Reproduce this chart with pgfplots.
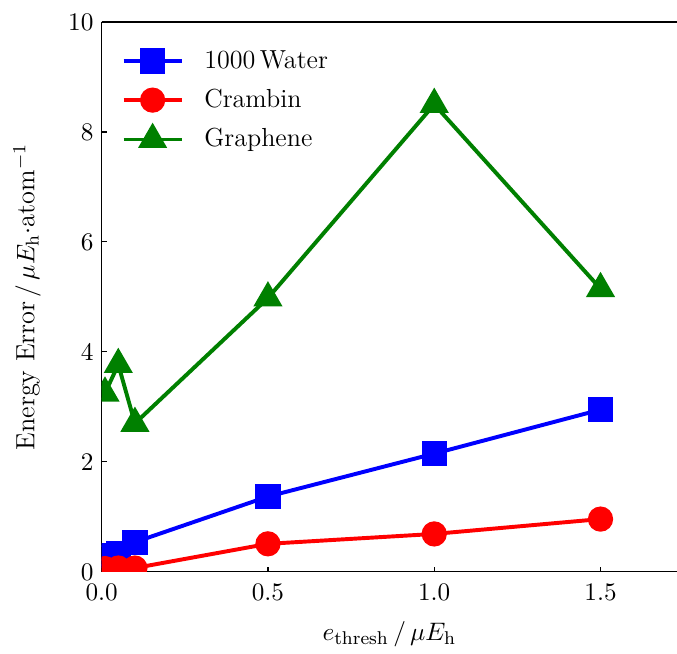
\documentclass[border=0pt]{standalone}
\usepackage{pgfplots}
\pgfplotsset{compat=1.18}
\definecolor{mplgreen}{RGB}{0,128,0}
\begin{document}
\begin{tikzpicture}
\begin{axis}[
  scale only axis,
  width=249pt, height=238pt,
  xmin=0, xmax=1.73, ymin=0, ymax=10,
  axis x line=box, axis y line=left,
  axis line style={line width=0.5pt, -},
  xtick={0,0.5,1.0,1.5},
  xticklabels={0.0,0.5,1.0,1.5},
  ytick={0,2,4,6,8,10},
  xtick pos=bottom, ytick pos=left,
  tick align=inside, major tick length=2.2pt,
  tick style={black, line width=0.5pt},
  tick label style={font=\fontsize{10.9}{13}\selectfont},
  xticklabel style={yshift=-1.5pt},
  label style={font=\fontsize{11.4}{13.7}\selectfont},
  xlabel={$e_\mathrm{thresh}\,/\,\mu E_\mathrm{h}$},
  ylabel={Energy Error$\,/\,\mu E_\mathrm{h}{\cdot}$atom$^{-1}$},
  xlabel style={yshift=-2pt},
  ylabel style={yshift=5pt},
  clip marker paths=true,
  legend cell align=left,
  legend style={draw=none, fill=none, at={(0.022,0.966)}, anchor=north west, row sep=3.6pt,
    column sep=4pt,
    font=\fontsize{11.3}{13.5}\selectfont, nodes={inner xsep=5pt}},
  legend image code/.code={%
    \draw[mark repeat=2,mark phase=2,#1] plot coordinates {(0cm,0cm) (0.44cm,0cm) (0.88cm,0cm)};},
  every axis plot/.append style={line width=1.7pt, mark options={solid}},
]
\addplot[blue, mark=square*, mark size=4.6pt] coordinates {
 (0.01,0.3) (0.05,0.34) (0.1,0.54) (0.5,1.37) (1.0,2.15) (1.5,2.95)};
\addlegendentry{1000\,Water}
\addplot[red, mark=*, mark size=4.6pt] coordinates {
 (0.01,0.06) (0.05,0.07) (0.1,0.07) (0.5,0.51) (1.0,0.69) (1.5,0.96)};
\addlegendentry{Crambin}
\addplot[mplgreen, mark=triangle*, mark size=5.6pt] coordinates {
 (0.01,3.25) (0.05,3.77) (0.1,2.7) (0.5,4.98) (1.0,8.5) (1.5,5.15)};
\addlegendentry{Graphene}
\end{axis}
\pgfresetboundingbox
\path[use as bounding box] ([shift={(-44pt,-35.5pt)}]current axis.south west) rectangle ([shift={(0pt,9.5pt)}]current axis.north east);
\end{tikzpicture}
\end{document}
